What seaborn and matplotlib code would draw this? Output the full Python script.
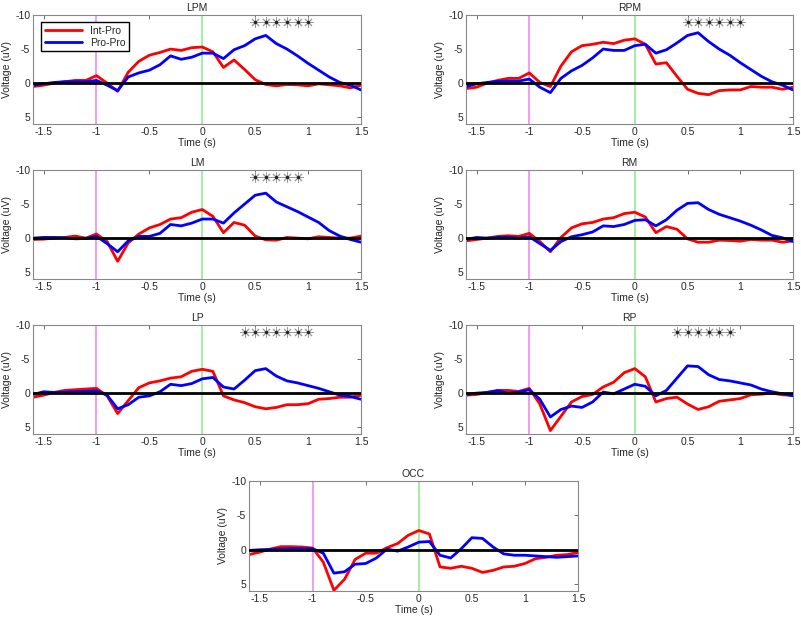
import matplotlib
matplotlib.use("Agg")
import matplotlib.pyplot as plt
import seaborn as sns
import pandas as pd

# sample times (s)
time = [-1.6, -1.5, -1.4, -1.3, -1.2, -1.1, -1.0, -0.9, -0.8, -0.7, -0.6,
        -0.5, -0.4, -0.3, -0.2, -0.1, 0.0, 0.1, 0.2, 0.3, 0.4, 0.5,
        0.6, 0.7, 0.8, 0.9, 1.0, 1.1, 1.2, 1.3, 1.4, 1.5]

# voltages (uV)
lpm_int = [0.5, 0.3, 0, -0.2, -0.4, -0.4, -1.1, 0, 1.2, -1.6, -3.2, -4.1, -4.5, -5.0, -4.8, -5.2,
           -5.3, -4.6, -2.3, -3.4, -2.0, -0.5, 0.2, 0.4, 0.2, 0.25, 0.4, 0.1, 0.25, 0.4, 0.7, 0.3]
lpm_pro = [0.3, 0.1, -0.1, -0.2, -0.2, -0.2, -0.4, 0.3, 1.1, -0.9, -1.5, -1.9, -2.7, -4.0, -3.5, -3.8,
           -4.4, -4.4, -3.6, -4.9, -5.5, -6.5, -7.0, -5.8, -5.0, -4.0, -2.9, -1.9, -0.9, -0.1, 0.3, 1.0]
rpm_int = [0.8, 0.6, 0, -0.4, -0.7, -0.7, -1.5, -0.1, 0.5, -2.5, -4.6, -5.5, -5.7, -6.0, -5.8, -6.3,
           -6.5, -5.7, -2.8, -3.0, -1.0, 0.9, 1.5, 1.7, 1.1, 1.0, 1.0, 0.5, 0.6, 0.6, 0.9, 0.6]
rpm_pro = [0.5, 0.1, -0.1, -0.25, -0.3, -0.3, -0.6, 0.6, 1.4, -0.7, -1.8, -2.6, -3.7, -5.0, -4.8, -4.8,
           -5.5, -5.7, -4.4, -4.9, -5.9, -7.0, -7.4, -6.1, -5.0, -4.1, -3.0, -2.0, -1.0, -0.2, 0.3, 1.0]
lm_int = [0.2, 0.15, 0, -0.1, -0.3, 0, -0.6, 0.5, 3.4, 0.7, -0.6, -1.5, -2.0, -2.8, -3.0, -3.8,
          -4.2, -3.2, -0.8, -2.3, -1.9, -0.3, 0.25, 0.3, -0.1, 0, 0.1, -0.2, -0.1, 0, 0, -0.3]
lm_pro = [0, -0.1, -0.1, -0.05, 0.1, 0.05, -0.25, 0.8, 2.0, 0.4, -0.25, -0.25, -0.7, -2.0, -1.8, -2.2,
          -2.8, -2.8, -2.2, -3.7, -5.0, -6.3, -6.6, -5.3, -4.6, -3.9, -3.1, -2.3, -1.1, -0.3, 0.2, 0.6]
rm_int = [0.4, 0.2, 0, -0.25, -0.35, -0.25, -0.7, 0.5, 2.0, -0.1, -1.5, -2.1, -2.3, -2.8, -3.0, -3.6,
          -3.8, -3.1, -0.8, -1.7, -1.3, 0.1, 0.6, 0.6, 0.3, 0.35, 0.45, 0.2, 0.3, 0.3, 0.6, 0.4]
rm_pro = [0.2, -0.1, 0, -0.1, -0.15, 0, -0.2, 0.8, 1.8, 0.5, -0.2, -0.5, -0.9, -1.8, -1.7, -2.0,
          -2.6, -2.7, -1.8, -2.7, -4.1, -5.1, -5.2, -4.2, -3.5, -3.0, -2.5, -1.9, -1.2, -0.4, -0.05, 0.5]
lp_int = [0.6, 0.3, -0.1, -0.4, -0.5, -0.6, -0.7, 0.4, 3.0, 1.1, -0.8, -1.5, -1.8, -2.2, -2.4, -3.2,
          -3.5, -3.2, 0.4, 1.0, 1.4, 2.0, 2.3, 2.1, 1.7, 1.7, 1.55, 0.9, 0.8, 0.6, 0.6, 0.3]
lp_pro = [0.2, -0.2, -0.1, -0.15, -0.2, -0.25, -0.35, 0.3, 2.3, 1.7, 0.6, 0.4, -0.2, -1.3, -1.1, -1.4,
          -2.1, -2.3, -0.9, -0.6, -1.9, -3.3, -3.6, -2.5, -1.8, -1.5, -1.1, -0.7, -0.2, 0.3, 0.5, 0.9]
rp_int = [0.3, 0.2, -0.1, -0.4, -0.4, -0.25, -0.7, 1.6, 5.5, 3.4, 1.3, 0.5, 0.2, -0.9, -1.6, -3.0,
          -3.6, -2.4, 1.3, 0.8, 0.6, 1.6, 2.4, 2.0, 1.2, 1.0, 0.8, 0.25, 0.15, 0, 0.25, 0.3]
rp_pro = [0.2, 0, -0.1, -0.35, 0, -0.15, -0.5, 0.9, 3.5, 2.4, 1.9, 2.1, 1.3, -0.15, 0.1, -0.6,
          -1.3, -1.0, 0.4, -0.4, -2.2, -4.0, -3.9, -2.7, -2.0, -1.8, -1.5, -1.2, -0.6, -0.2, 0.1, 0.4]
occ_int = [0.7, 0.35, -0.1, -0.45, -0.45, -0.4, -0.25, 1.8, 5.9, 4.3, 1.4, 0.5, 0.5, -0.3, -0.9, -2.1,
           -2.8, -2.3, 2.5, 2.7, 2.4, 2.7, 3.3, 3.0, 2.5, 2.4, 2.0, 1.3, 1.1, 0.8, 0.7, 0.4]
occ_pro = [0.1, 0, -0.05, -0.1, -0.15, -0.15, -0.15, 0.5, 3.4, 3.2, 2.1, 2.0, 1.2, -0.1, 0.2, -0.4,
           -1.1, -1.2, 0.8, 1.2, -0.15, -1.75, -1.65, -0.4, 0.6, 0.8, 0.8, 0.9, 1.0, 1.1, 1.0, 0.9]

# times with significant differences (asterisks)
lpm_stars = [0.5, 0.6, 0.7, 0.8, 0.9, 1.0]
rpm_stars = [0.5, 0.6, 0.7, 0.8, 0.9, 1.0]
lm_stars = [0.5, 0.6, 0.7, 0.8, 0.9]
rm_stars = []
lp_stars = [0.4, 0.5, 0.6, 0.7, 0.8, 0.9, 1.0]
rp_stars = [0.4, 0.5, 0.6, 0.7, 0.8, 0.9]
occ_stars = []

regions = ["LPM", "RPM", "LM", "RM", "LP", "RP", "OCC"]
int_vals = [lpm_int, rpm_int, lm_int, rm_int, lp_int, rp_int, occ_int]
pro_vals = [lpm_pro, rpm_pro, lm_pro, rm_pro, lp_pro, rp_pro, occ_pro]
stars = [lpm_stars, rpm_stars, lm_stars, rm_stars, lp_stars, rp_stars, occ_stars]

sns.set_style("white")
plt.rcParams['font.family'] = ['Liberation Sans', 'DejaVu Sans']
plt.rcParams['font.size'] = 7.5

fig = plt.figure(figsize=(8.01, 6.18), dpi=100)

W = 801.0
H = 618.0
# axes rectangles in pixels: left, top, right, bottom
boxes = [(33, 15, 361, 124), (466, 15, 793, 124),
         (33, 170, 361, 279), (466, 170, 793, 279),
         (33, 325, 361, 434), (466, 325, 793, 434),
         (249, 481, 578, 591)]

palette = {"Int-Pro": "#ff0000", "Pro-Pro": "#0000ff"}

for i, name in enumerate(regions):
    l, t, r, b = boxes[i]
    ax = fig.add_axes([l / W, 1 - b / H, (r - l) / W, (b - t) / H])

    df = pd.DataFrame({
        "Time": time + time,
        "Voltage": int_vals[i] + pro_vals[i],
        "Condition": ["Int-Pro"] * len(time) + ["Pro-Pro"] * len(time),
    })

    ax.axvline(-1, color="#f0a0f0", lw=1.5, zorder=1)
    ax.axvline(0, color="#a8eca8", lw=1.5, zorder=1)
    sns.lineplot(data=df, x="Time", y="Voltage", hue="Condition", palette=palette,
                 estimator=None, lw=2, ax=ax, legend=(name == "LPM"), zorder=2)
    ax.axhline(0, color="black", lw=2, zorder=3)

    if stars[i]:
        ax.scatter(stars[i], [-8.9] * len(stars[i]), marker=(8, 2, 0), s=45,
                   color="#9a9a9a", linewidths=0.7, zorder=4)
        ax.scatter(stars[i], [-8.9] * len(stars[i]), marker="o", s=2,
                   color="#222222", zorder=5)

    ax.set_xlim(-1.6, 1.5)
    ax.set_ylim(6, -10)
    ax.set_xticks([-1.5, -1, -0.5, 0, 0.5, 1, 1.5])
    ax.set_xticklabels(["-1.5", "-1", "-0.5", "0", "0.5", "1", "1.5"])
    ax.set_yticks([-10, -5, 0, 5])
    ax.set_yticklabels(["-10", "-5", "0", "5"])
    ax.tick_params(direction="in", length=3, width=0.6, color="#555555",
                   top=True, right=True, labelsize=7.5, pad=2)
    for s in ax.spines.values():
        s.set_color("#888888")
        s.set_linewidth(0.8)
    ax.set_title(name, fontsize=7.5, pad=3)
    ax.set_xlabel("Time (s)", fontsize=7.5, labelpad=1)
    ax.set_ylabel("Voltage (uV)", fontsize=7.5, labelpad=2)

    if name == "LPM":
        handles, labels = ax.get_legend_handles_labels()
        ax.legend(handles, labels, loc="upper left", fontsize=7.5, frameon=True,
                  fancybox=False, edgecolor="black", framealpha=1,
                  borderpad=0.3, handlelength=3.6, labelspacing=0.2,
                  bbox_to_anchor=(0.01, 0.98))

fig.savefig("out.png", dpi=100)
